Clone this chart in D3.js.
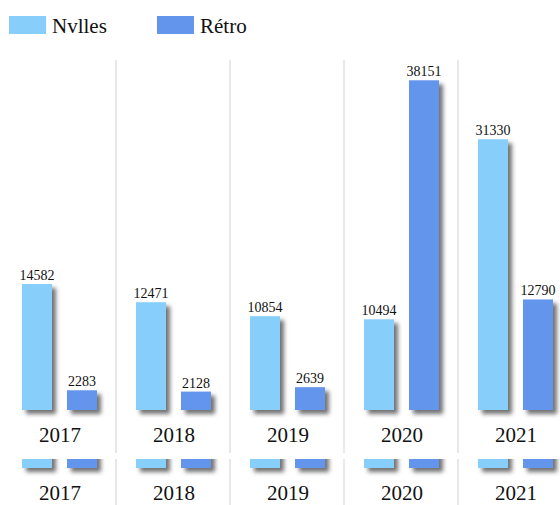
<!DOCTYPE html>
<html>
<head>
<meta charset="utf-8">
<script src="https://cdn.jsdelivr.net/npm/d3@7"></script>
<style>
  html, body { margin: 0; padding: 0; background: #fff; }
  svg { display: block; }
</style>
</head>
<body>
<svg id="chart" width="560" height="505"></svg>
<script>
const years = ["2017", "2018", "2019", "2020", "2021"];
const seriesNames = ["Nvlles", "Rétro"];
const nvlles = [14582, 12471, 10854, 10494, 31330];
const retro = [2283, 2128, 2639, 38151, 12790];
const colors = ["#87CEFA", "#6495ED"];

const FONT = "'Times New Roman', Times, 'Liberation Serif', serif";
const svg = d3.select("#chart");
const W = 560, H = 505;

const defs = svg.append("defs");
const f = defs.append("filter").attr("id", "shadow")
  .attr("x", "-20%").attr("y", "-20%").attr("width", "160%").attr("height", "160%");
f.append("feDropShadow").attr("dx", 4).attr("dy", 4).attr("stdDeviation", 2)
  .attr("flood-color", "#444").attr("flood-opacity", 0.75);

defs.append("clipPath").attr("id", "clipTop")
  .append("rect").attr("x", 0).attr("y", 0).attr("width", W).attr("height", 455);
defs.append("clipPath").attr("id", "clipBottom")
  .append("rect").attr("x", 0).attr("y", 459).attr("width", W).attr("height", H - 459);

const x0 = d3.scaleBand().domain(years).range([2, 572]).padding(0);
const x1 = d3.scaleBand().domain(seriesNames).range([20, 95]).paddingInner(1 / 3).paddingOuter(0);
const y = d3.scaleLinear().domain([0, 40500]).range([410, 60]);

const data = years.map((yr, i) => ({
  year: yr,
  values: [
    { name: seriesNames[0], value: nvlles[i], color: colors[0] },
    { name: seriesNames[1], value: retro[i], color: colors[1] }
  ]
}));

function drawChart(parent, dy, withValues) {
  const g = parent.append("g").attr("transform", `translate(0,${dy})`);
  g.selectAll("line.sep").data(years.slice(1)).enter().append("line")
    .attr("class", "sep")
    .attr("x1", d => x0(d)).attr("x2", d => x0(d))
    .attr("y1", 60).attr("y2", 453)
    .attr("stroke", "#e8e8e8").attr("stroke-width", 2);

  const groups = g.selectAll("g.grp").data(data).enter().append("g")
    .attr("class", "grp")
    .attr("transform", d => `translate(${x0(d.year)},0)`);

  groups.selectAll("rect").data(d => d.values).enter().append("rect")
    .attr("x", d => x1(d.name))
    .attr("width", x1.bandwidth())
    .attr("y", d => y(d.value))
    .attr("height", d => y(0) - y(d.value))
    .attr("fill", d => d.color)
    .attr("filter", "url(#shadow)");

  if (withValues) {
    groups.selectAll("text.val").data(d => d.values).enter().append("text")
      .attr("class", "val")
      .attr("x", d => x1(d.name) + x1.bandwidth() / 2)
      .attr("y", d => y(d.value) - 4)
      .attr("text-anchor", "middle")
      .style("font-family", FONT)
      .style("font-size", "14px")
      .attr("fill", "#111")
      .text(d => d.value);
  }

  groups.append("text")
    .attr("x", x0.bandwidth() / 2 + 1)
    .attr("y", 442)
    .attr("text-anchor", "middle")
    .style("font-family", FONT)
    .style("font-size", "21px")
    .attr("fill", "#111")
    .text(d => d.year);
}

drawChart(svg.append("g").attr("clip-path", "url(#clipTop)"), 0, true);
drawChart(svg.append("g").attr("clip-path", "url(#clipBottom)"), 58, false);

// legend
const lg = svg.append("g").selectAll("g").data(seriesNames).enter().append("g")
  .attr("transform", (d, i) => `translate(${9 + i * 148},0)`);
lg.append("rect").attr("x", 0).attr("y", 16).attr("width", 37).attr("height", 18)
  .attr("fill", (d, i) => colors[i]);
lg.append("text").attr("x", 43).attr("y", 33)
  .style("font-family", FONT).style("font-size", "21px").attr("fill", "#111")
  .text(d => d);
</script>
</body>
</html>
